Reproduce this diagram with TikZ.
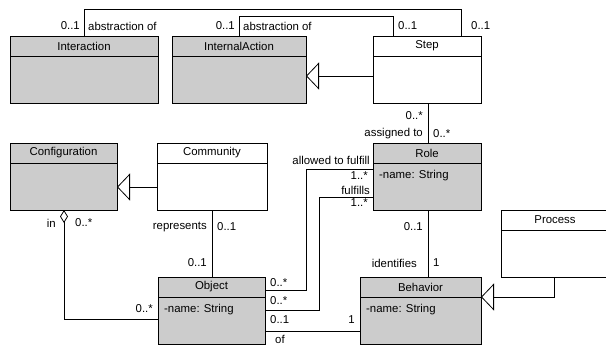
\documentclass[tikz,border=0pt]{standalone}
\usepackage{fontspec}
\setmainfont{Liberation Sans}
\usetikzlibrary{arrows.meta}
\definecolor{clsgray}{HTML}{CCCCCC}
\newcommand\umlcls[7]{%
  \node[cls,fill=#6,minimum width=#4pt,minimum height=#5pt,anchor=north west] (#1) at (#2,#3) {};
  \draw[line width=0.8pt] ([yshift=-20pt]#1.north west) -- ([yshift=-20pt]#1.north east);
  \node[lbl] at ([yshift=-10pt]#1.north) {#7};}
\begin{document}
\begin{tikzpicture}[x=1pt,y=-1pt,
  cls/.style={draw,line width=0.8pt,inner sep=0pt,outer sep=0pt},
  lbl/.style={inner sep=0pt,font=\fontsize{11.4}{13}\selectfont},
  conn/.style={draw,line width=0.8pt},
  gen/.style={conn,-{Triangle[open,length=13pt,width=27pt,fill=white]}},
  agg/.style={conn,{Diamond[open,length=13pt,width=8pt,fill=white]}-}]
\useasboundingbox (0,0) rectangle (606,346);
\clip (0,0) rectangle (606,346);
\fill[white] (0,0) rectangle (606,346);
% classes
\umlcls{inter}{10}{36}{148}{67}{clsgray}{Interaction}
\umlcls{intact}{172}{36}{134}{67}{clsgray}{InternalAction}
\umlcls{step}{373}{36}{108}{67}{white}{Step}
\umlcls{config}{10}{143}{107}{67}{clsgray}{Configuration}
\umlcls{comm}{157}{143}{110}{67}{white}{Community}
\umlcls{role}{373}{143}{108}{67}{clsgray}{Role}
\umlcls{proc}{501}{210}{108}{67}{white}{Process}
\umlcls{obj}{158}{277}{107}{67}{clsgray}{Object}
\umlcls{beh}{360}{277}{121}{67}{clsgray}{Behavior}
\node[lbl,anchor=west] at ([xshift=6pt,yshift=-33pt]role.north west) {-name: String};
\node[lbl,anchor=west] at ([xshift=6pt,yshift=-33pt]obj.north west) {-name: String};
\node[lbl,anchor=west] at ([xshift=6pt,yshift=-33pt]beh.north west) {-name: String};
% connectors
\draw[conn] (inter.north -| 84,0) |- (461,9) -- (step.north -| 461,0);
\draw[conn] (intact.north -| 239,0) |- (393,16) -- (step.north -| 393,0);
\draw[gen] (step.west |- 0,76) -- (intact.east |- 0,76);
\draw[conn] (step.south -| 428,0) -- (role.north -| 428,0);
\draw[gen] (comm.west |- 0,187) -- (config.east |- 0,187);
\draw[conn] (comm.south -| 212,0) -- (obj.north -| 212,0);
\draw[agg] (config.south -| 64,0) |- (obj.west |- 0,319);
\draw[conn] (role.south -| 428,0) -- (beh.north -| 428,0);
\draw[gen] (proc.south -| 554,0) |- (beh.east |- 0,297);
\draw[conn] (obj.east |- 0,290) -| (306,169) -- (role.west |- 0,169);
\draw[conn] (obj.east |- 0,310) -| (319,197) -- (role.west |- 0,197);
\draw[conn] (obj.east |- 0,331) -- (beh.west |- 0,331);
% labels
\node[lbl,anchor=east] at (80,26) {0..1};
\node[lbl,anchor=west] at (88,26) {abstraction of};
\node[lbl,anchor=east] at (235,26) {0..1};
\node[lbl,anchor=west] at (243,26) {abstraction of};
\node[lbl,anchor=west] at (398,26) {0..1};
\node[lbl,anchor=west] at (471,26) {0..1};
\node[lbl,anchor=east] at (423,116) {0..*};
\node[lbl,anchor=east] at (423,134) {assigned to};
\node[lbl,anchor=west] at (433,134) {0..*};
\node[lbl,anchor=east] at (56,223) {in};
\node[lbl,anchor=west] at (75,223) {0..*};
\node[lbl,anchor=east] at (153,309) {0..*};
\node[lbl,anchor=east] at (207,227) {represents};
\node[lbl,anchor=west] at (217,227) {0..1};
\node[lbl,anchor=east] at (207,263) {0..1};
\node[lbl,anchor=west] at (270,283) {0..*};
\node[lbl,anchor=west] at (270,301) {0..*};
\node[lbl,anchor=west] at (270,320) {0..1};
\node[lbl,anchor=west] at (275,339) {of};
\node[lbl,anchor=east] at (355,320) {1};
\node[lbl,anchor=east] at (423,227) {0..1};
\node[lbl,anchor=east] at (417,263) {identifies};
\node[lbl,anchor=west] at (433,263) {1};
\node[lbl,anchor=east] at (370,160) {allowed to fulfill};
\node[lbl,anchor=east] at (368,176) {1..*};
\node[lbl,anchor=east] at (370,190) {fulfills};
\node[lbl,anchor=east] at (368,203) {1..*};
\end{tikzpicture}
\end{document}
